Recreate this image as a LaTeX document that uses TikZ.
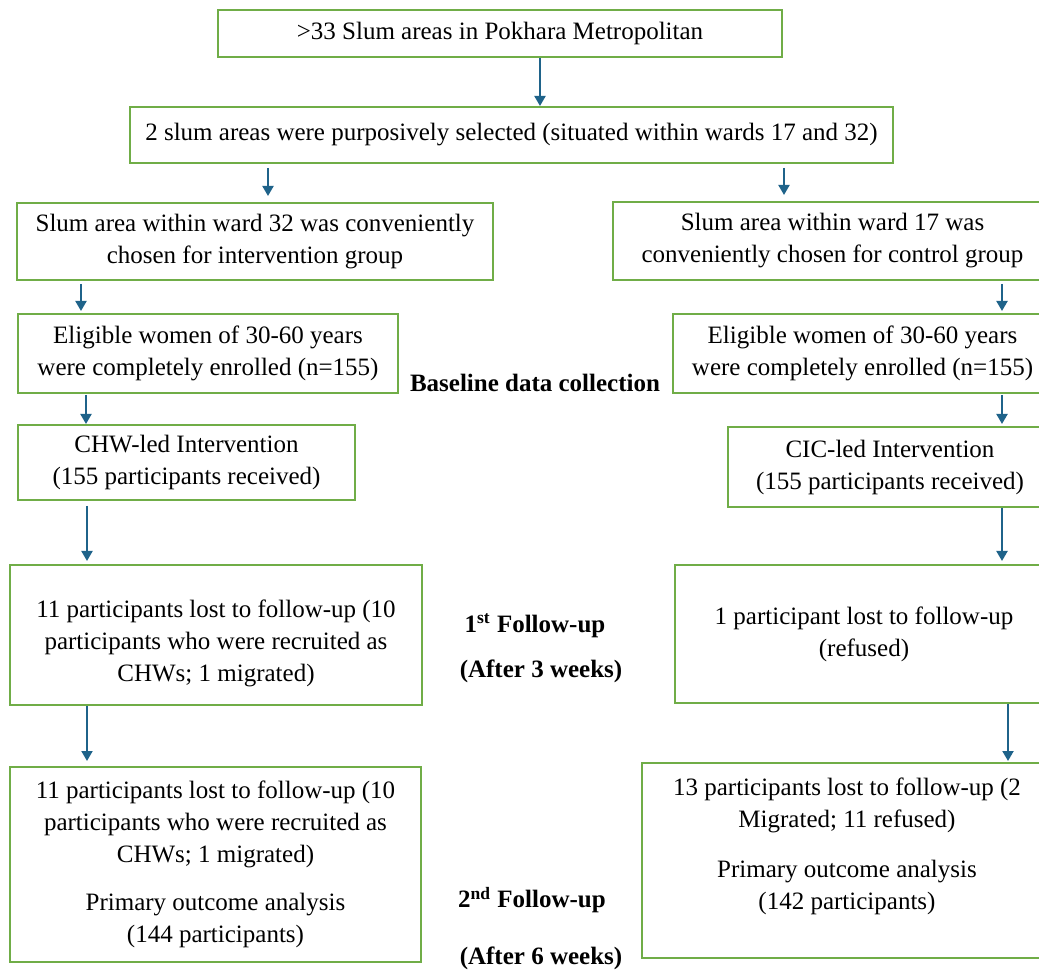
\documentclass[tikz,border=0pt]{standalone}
\usepackage{fontspec}
\setmainfont{Liberation Serif}
\usetikzlibrary{arrows.meta}
\definecolor{boxgreen}{RGB}{112,173,71}
\definecolor{arrowblue}{RGB}{31,99,138}
\begin{document}
\begin{tikzpicture}[x=0.5pt,y=-0.5pt,box_node/.style={draw=boxgreen,line width=1pt,align=center,inner sep=0pt,font=\fontsize{12.5}{16}\selectfont},label_node/.style={font=\fontsize{12.5}{16}\selectfont\bfseries},arrow_line/.style={draw=arrowblue,line width=1pt,-{Triangle[length=5pt,width=5.5pt]}}]
		\useasboundingbox (0,0) rectangle (1039,972);
		\clip (0,0) rectangle (1039,972);

		\node[box_node,minimum width=282pt,minimum height=23.5pt] (slums) at (500,33.5) {>33 Slum areas in Pokhara Metropolitan};
		\node[box_node,minimum width=381.5pt,minimum height=28pt] (selected) at (511.5,135) {2 slum areas were purposively selected (situated within wards 17 and 32)};
		\node[box_node,minimum width=238pt,minimum height=38.5pt] (ward32) at (255,241.5) {Slum area within ward 32 was conveniently\\chosen for intervention group};
		\node[box_node,minimum width=219.5pt,minimum height=39pt] (ward17) at (832.5,241) {Slum area within ward 17 was\\conveniently chosen for control group};
		\node[box_node,minimum width=190pt,minimum height=39.5pt] (enrol_l) at (208,353.5) {Eligible women of 30-60 years\\were completely enrolled (n=155)};
		\node[box_node,minimum width=189.5pt,minimum height=39.5pt] (enrol_r) at (862.5,353.5) {Eligible women of 30-60 years\\were completely enrolled (n=155)};
		\node[box_node,minimum width=168.5pt,minimum height=37.5pt] (chw) at (186.5,462.5) {CHW-led Intervention\\(155 participants received)};
		\node[box_node,minimum width=162pt,minimum height=40pt] (cic) at (890,467) {CIC-led Intervention\\(155 participants received)};
		\node[box_node,minimum width=206pt,minimum height=70pt] (lost_l1) at (216,635) {\rule{0pt}{17pt}11 participants lost to follow-up (10\\participants who were recruited as\\CHWs; 1 migrated)};
		\node[box_node,minimum width=189pt,minimum height=69pt] (lost_r1) at (864,634) {1 participant lost to follow-up\\(refused)};
		\node[box_node,minimum width=205.5pt,minimum height=97.5pt] (lost_l2) at (215.5,864.5) {11 participants lost to follow-up (10\\participants who were recruited as\\CHWs; 1 migrated)\\[8pt]Primary outcome analysis\\(144 participants)};
		\node[box_node,minimum width=205pt,minimum height=97.5pt] (lost_r2) at (847,860.5) {13 participants lost to follow-up (2\\Migrated; 11 refused)\\[9pt]Primary outcome analysis\\(142 participants)\rule[-17pt]{0pt}{17pt}};

		\node[label_node] (baseline) at (535,383) {Baseline data collection};
		\node[label_node] (follow1) at (535,626) {1\textsuperscript{st} Follow-up};
		\node[label_node] (after3) at (541,671) {(After 3 weeks)};
		\node[label_node] (follow2) at (532,900) {2\textsuperscript{nd} Follow-up};
		\node[label_node] (after6) at (541,958) {(After 6 weeks)};

		\draw[arrow_line] (slums.south -| 540,0) -- (selected.north -| 540,0);

		\draw[arrow_line,shorten <=2pt,shorten >=3pt] (selected.south -| 268,0) -- (ward32.north -| 268,0);
		\draw[arrow_line,shorten <=2pt,shorten >=3pt] (selected.south -| 784,0) -- (ward17.north -| 784,0);

		\draw[arrow_line,shorten <=1.5pt,shorten >=1pt] (ward32.south -| 81,0) -- (enrol_l.north -| 81,0);
		\draw[arrow_line,shorten <=1.5pt,shorten >=1pt] (ward17.south -| 1002,0) -- (enrol_r.north -| 1002,0);

		\draw[arrow_line,shorten <=0.5pt] (enrol_l.south -| 86,0) -- (chw.north -| 86,0);
		\draw[arrow_line,shorten <=0.5pt,shorten >=1pt] (enrol_r.south -| 1002,0) -- (cic.north -| 1002,0);

		\draw[arrow_line,shorten <=2.5pt,shorten >=1.5pt] (chw.south -| 87,0) -- (lost_l1.north -| 87,0);
		\draw[arrow_line,shorten >=1.5pt] (cic.south -| 1002,0) -- (lost_r1.north -| 1002,0);

		\draw[arrow_line,shorten >=2.5pt] (lost_l1.south -| 87,0) -- (lost_l2.north -| 87,0);
		\draw[arrow_line,shorten >=0.5pt] (lost_r1.south -| 1008,0) -- (lost_r2.north -| 1008,0);
		\end{tikzpicture}
\end{document}
